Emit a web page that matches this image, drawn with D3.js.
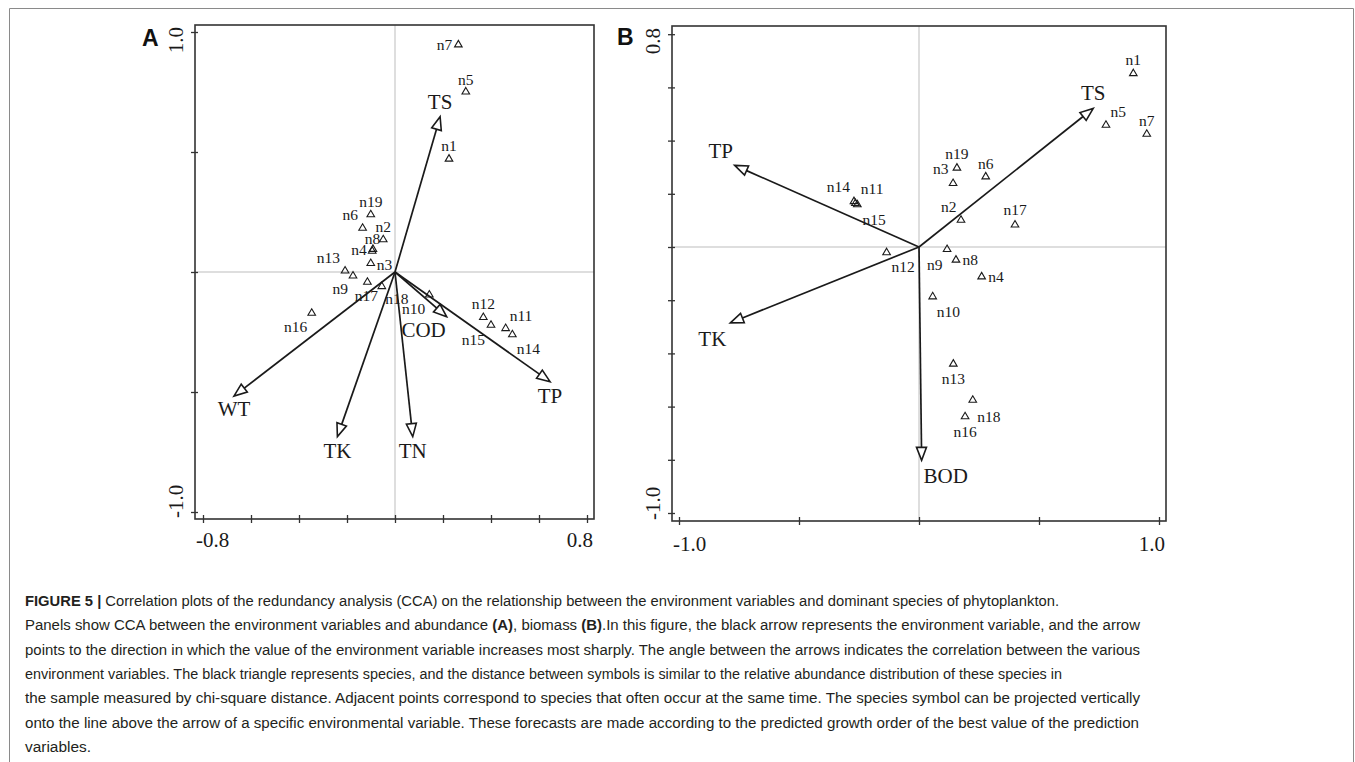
<!DOCTYPE html>
<html>
<head>
<meta charset="utf-8">
<script src="https://cdn.jsdelivr.net/npm/d3@7"></script>
<style>
  body { margin: 0; background: #fff; }
  svg { display: block; }
</style>
</head>
<body>
<svg id="fig" width="1355" height="762"></svg>
<script>
// ---- data ----
var species = ["n1","n2","n3","n4","n5","n6","n7","n8","n9","n10","n11","n12","n13","n14","n15","n16","n17","n18","n19"];

// panel A : abundance
var abundX = [0.225,-0.049,-0.101,-0.095,0.295,-0.135,0.264,-0.092,-0.175,0.143,0.461,0.368,-0.208,0.489,0.400,-0.347,-0.115,-0.055,-0.101];
var abundY = [0.474,0.138,0.039,0.090,0.754,0.186,0.950,0.098,-0.013,-0.092,-0.232,-0.186,0.008,-0.258,-0.218,-0.168,-0.039,-0.057,0.242];
var envA  = ["TS","WT","TK","TN","COD","TP"];
var envAX = [0.188,-0.671,-0.240,0.074,0.215,0.646];
var envAY = [0.647,-0.517,-0.686,-0.686,-0.186,-0.457];
var ticksAX = [-0.8,-0.6,-0.4,-0.2,0,0.2,0.4,0.6,0.8];
var ticksAY = [-1.0,-0.5,0,0.5,1.0];
var tickLabelsAX = ["-0.8","0.8"];
var tickLabelsAY = ["-1.0","1.0"];

// panel B : biomass
var biomX = [0.893,0.175,0.142,0.261,0.779,0.278,0.949,0.154,0.117,0.057,-0.257,-0.135,0.143,-0.271,-0.265,0.192,0.400,0.224,0.158];
var biomY = [0.655,0.104,0.242,-0.109,0.461,0.267,0.427,-0.046,-0.006,-0.184,0.162,-0.018,-0.437,0.174,0.167,-0.635,0.086,-0.573,0.300];
var envB  = ["TS","TP","TK","BOD"];
var envBX = [0.726,-0.768,-0.786,0.011];
var envBY = [0.521,0.307,-0.285,-0.802];
var ticksBX = [-1.0,-0.5,0,0.5,1.0];
var ticksBY = [-1.0,-0.8,-0.6,-0.4,-0.2,0,0.2,0.4,0.6,0.8];
var tickLabelsBX = ["-1.0","1.0"];
var tickLabelsBY = ["-1.0","0.8"];

// label placement (pixel offsets from the symbol, anchor)
var labPosA = [[0,-12,"middle"],[0,-12,"middle"],[6,2,"start"],[-5.5,0,"end"],[0,-11,"middle"],[-4.5,-12,"end"],
  [-6,1,"end"],[-0.5,-9,"middle"],[-5,14,"end"],[-4,15,"end"],[4,-12,"start"],[0,-13,"middle"],[-5,-12,"end"],
  [4.5,15,"start"],[-6,15.5,"end"],[-4.5,14.5,"end"],[-1,14.5,"middle"],[3.5,13.5,"start"],[0,-12,"middle"]];
var labPosB = [[0,-12.5,"middle"],[-4.5,-12.5,"end"],[-4.5,-13.5,"end"],[6.5,1,"start"],[4.5,-12,"start"],[0,-12,"middle"],
  [0,-12,"middle"],[6.5,1,"start"],[-4.5,16,"end"],[4,16.5,"start"],[3.5,-15,"start"],[5,15,"start"],[0,15.5,"middle"],
  [-4,-14,"end"],[7,17,"start"],[0,16.5,"middle"],[0,-14,"middle"],[4.5,17.5,"start"],[0,-13,"middle"]];
var envPosA = [[0,-15],[0,13],[0,14.5],[0,14.5],[-23,13.5],[0,14.5]];
var envPosB = [[0,-15],[-14,-14],[-18,16.5],[24,16]];

var captionLines = [
  [["FIGURE 5 | ",true],["Correlation plots of the redundancy analysis (CCA) on the relationship between the environment variables and dominant species of phytoplankton.",false]],
  [["Panels show CCA between the environment variables and abundance ",false],["(A)",true],[", biomass ",false],["(B)",true],[".In this figure, the black arrow represents the environment variable, and the arrow",false]],
  [["points to the direction in which the value of the environment variable increases most sharply. The angle between the arrows indicates the correlation between the various",false]],
  [["environment variables. The black triangle represents species, and the distance between symbols is similar to the relative abundance distribution of these species in",false]],
  [["the sample measured by chi-square distance. Adjacent points correspond to species that often occur at the same time. The species symbol can be projected vertically",false]],
  [["onto the line above the arrow of a specific environmental variable. These forecasts are made according to the predicted growth order of the best value of the prediction",false]],
  [["variables.",false]]
];
var captionEnds = [1059,1140,1140,1062,1140,1139,91];

var svg = d3.select("#fig");
var SERIF = "'Liberation Serif','Times New Roman',serif";
var INK = "#1a1a1a";

// figure frame
svg.append("path").attr("d","M9.5,762V8.5H1353.5V762")
  .attr("fill","none").attr("stroke","#8a8a8a").attr("stroke-width",1);

function drawPanel(cfg) {
  var x = d3.scaleLinear().domain(cfg.xDom).range([cfg.left, cfg.right]);
  var y = d3.scaleLinear().domain(cfg.yDom).range([cfg.bottom, cfg.top]);
  var g = svg.append("g");

  // zero lines
  g.append("line").attr("x1",cfg.left).attr("x2",cfg.right).attr("y1",y(0)).attr("y2",y(0))
    .attr("stroke","#bdbdbd").attr("stroke-width",1);
  g.append("line").attr("x1",x(0)).attr("x2",x(0)).attr("y1",cfg.top).attr("y2",cfg.bottom)
    .attr("stroke","#bdbdbd").attr("stroke-width",1);

  // frame
  g.append("rect").attr("x",cfg.left).attr("y",cfg.top)
    .attr("width",cfg.right-cfg.left).attr("height",cfg.bottom-cfg.top)
    .attr("fill","none").attr("stroke","#333").attr("stroke-width",1.6);

  // axes ticks (cross the frame line)
  var ax = g.append("g").attr("transform","translate(0,"+cfg.bottom+")")
    .call(d3.axisBottom(x).tickValues(cfg.ticksX).tickSize(4).tickFormat(""));
  ax.select(".domain").remove();
  ax.selectAll(".tick line").attr("y1",-4).attr("stroke","#333").attr("stroke-width",1.3);
  var ay = g.append("g").attr("transform","translate("+cfg.left+",0)")
    .call(d3.axisLeft(y).tickValues(cfg.ticksY).tickSize(4).tickFormat(""));
  ay.select(".domain").remove();
  ay.selectAll(".tick line").attr("x1",3).attr("stroke","#333").attr("stroke-width",1.3);

  // extreme tick labels, aligned to the frame edges
  g.append("text").attr("x",cfg.left+1).attr("y",cfg.xLabBase).attr("text-anchor","start")
    .attr("font-family",SERIF).attr("font-size",21).attr("fill",INK).text(cfg.labX[0]);
  g.append("text").attr("x",cfg.right-1).attr("y",cfg.xLabBase).attr("text-anchor","end")
    .attr("font-family",SERIF).attr("font-size",21).attr("fill",INK).text(cfg.labX[1]);
  g.append("text").attr("transform","translate("+cfg.yLabBase+","+(cfg.bottom-1)+") rotate(-90)")
    .attr("text-anchor","start").attr("font-family",SERIF).attr("font-size",21).attr("fill",INK).text(cfg.labY[0]);
  g.append("text").attr("transform","translate("+cfg.yLabBase+","+(cfg.top+2)+") rotate(-90)")
    .attr("text-anchor","end").attr("font-family",SERIF).attr("font-size",21).attr("fill",INK).text(cfg.labY[1]);

  // panel letter
  g.append("text").attr("x",cfg.letterX).attr("y",cfg.letterY)
    .attr("font-family","'Liberation Sans',Arial,sans-serif").attr("font-weight","bold")
    .attr("font-size",23).attr("fill","#111").text(cfg.letter);

  // environment arrows
  var ox = x(0), oy = y(0);
  cfg.env.forEach(function(name, i) {
    var tx = x(cfg.envX[i]), ty = y(cfg.envY[i]);
    var dx = tx-ox, dy = ty-oy, L = Math.sqrt(dx*dx+dy*dy);
    var ux = dx/L, uy = dy/L, hl = 13, hw = 5;
    var bx = tx-ux*hl, by = ty-uy*hl;
    g.append("line").attr("x1",ox).attr("y1",oy).attr("x2",bx).attr("y2",by)
      .attr("stroke",INK).attr("stroke-width",1.7);
    g.append("path")
      .attr("d","M"+tx+","+ty+"L"+(bx-uy*hw)+","+(by+ux*hw)+"L"+(bx+uy*hw)+","+(by-ux*hw)+"Z")
      .attr("fill","#fff").attr("stroke",INK).attr("stroke-width",1.6).attr("stroke-linejoin","miter");
    g.append("text").attr("x",tx+cfg.envPos[i][0]).attr("y",ty+cfg.envPos[i][1]+7)
      .attr("text-anchor","middle").attr("font-family",SERIF).attr("font-size",21)
      .attr("fill",INK).text(name);
  });

  // species
  var tri = "M0,-3.6L3.8,2.9L-3.8,2.9Z";
  species.forEach(function(name, i) {
    var px = x(cfg.spX[i]), py = y(cfg.spY[i]);
    g.append("path").attr("d",tri).attr("transform","translate("+px+","+py+")")
      .attr("fill","none").attr("stroke",INK).attr("stroke-width",1.1);
    var p = cfg.labPos[i];
    g.append("text").attr("x",px+p[0]).attr("y",py+p[1]+5)
      .attr("text-anchor",p[2]).attr("font-family",SERIF).attr("font-size",15.5)
      .attr("fill",INK).text(name);
  });
}

drawPanel({
  left:195, right:594, top:25, bottom:519,
  xDom:[(195-395)/240,(594-395)/240], yDom:[(272-519)/240,(272-25)/240],
  ticksX:ticksAX, ticksY:ticksAY, labX:tickLabelsAX, labY:tickLabelsAY,
  xLabBase:547, yLabBase:183, letter:"A", letterX:142, letterY:46,
  env:envA, envX:envAX, envY:envAY, envPos:envPosA,
  spX:abundX, spY:abundY, labPos:labPosA
});

drawPanel({
  left:672, right:1166, top:26, bottom:521,
  xDom:[(672-919)/240,(1166-919)/240], yDom:[(247-521)/266,(247-26)/266],
  ticksX:ticksBX, ticksY:ticksBY, labX:tickLabelsBX, labY:tickLabelsBY,
  xLabBase:551, yLabBase:660, letter:"B", letterX:617, letterY:45,
  env:envB, envX:envBX, envY:envBY, envPos:envPosB,
  spX:biomX, spY:biomY, labPos:labPosB
});

// caption
var cap = svg.append("g").attr("font-family","'Liberation Sans',Arial,sans-serif")
  .attr("font-size",15.5).attr("fill","#231f20");
captionLines.forEach(function(parts, i) {
  var t = cap.append("text").attr("x",25).attr("y",605.7+i*24.4)
    .attr("textLength",captionEnds[i]-25).attr("lengthAdjust","spacingAndGlyphs");
  parts.forEach(function(p) {
    t.append("tspan").attr("font-weight",p[1]?"bold":"normal").text(p[0]);
  });
});
</script>
</body>
</html>
